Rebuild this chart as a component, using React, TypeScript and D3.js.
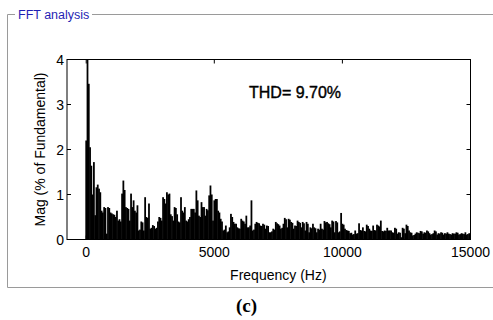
import React from "react";
import * as d3 from "d3";

// FFT bins, 50 Hz spacing, starting at 0 Hz (magnitude in % of fundamental)
const binStepHz = 50;
const magnitudes: number[] = [
  2.2, 100, 3.46, 2.05, 1.64, 1.0, 1.72, 0.54, 1.16, 1.22,
  1.13, 1.05, 0.64, 0.6, 0.72, 0.7, 0.13, 0.72, 0.7, 0.6,
  0.58, 0.56, 0.55, 0.5, 0.64, 0.42, 0.45, 0.4, 1.02, 1.31,
  1.1, 0.72, 0.7, 0.68, 0.42, 1.02, 0.72, 0.87, 0.64, 0.6,
  0.76, 0.2, 0.22, 0.4, 0.38, 0.2, 0.94, 0.5, 0.48, 0.8,
  0.24, 0.26, 0.32, 0.3, 0.24, 0.26, 0.4, 0.5, 0.48, 0.42,
  0.94, 0.9, 0.8, 1.05, 1.0, 1.02, 0.56, 0.52, 0.42, 0.72,
  0.7, 0.56, 0.4, 0.38, 0.94, 0.64, 0.6, 0.72, 0.42, 0.4,
  0.45, 0.5, 0.68, 0.68, 0.68, 0.6, 1.09, 0.87, 0.53, 0.5,
  0.83, 0.72, 0.72, 0.53, 0.68, 0.65, 0.98, 1.2, 1.0, 0.42,
  0.87, 0.9, 0.9, 0.64, 0.6, 0.46, 0.4, 0.2, 0.22, 0.31,
  0.16, 0.18, 0.27, 0.57, 0.5, 0.39, 0.35, 0.35, 0.27, 0.25,
  0.24, 0.46, 0.42, 0.4, 0.35, 0.53, 0.27, 0.27, 0.31, 0.87,
  0.2, 0.22, 0.35, 0.39, 0.37, 0.36, 0.31, 0.3, 0.35, 0.33,
  0.24, 0.31, 0.3, 0.16, 0.16, 0.18, 0.24, 0.22, 0.39, 0.36,
  0.34, 0.31, 0.24, 0.26, 0.35, 0.48, 0.45, 0.27, 0.46, 0.44,
  0.39, 0.37, 0.24, 0.31, 0.3, 0.42, 0.39, 0.37, 0.27, 0.39,
  0.36, 0.2, 0.39, 0.35, 0.16, 0.27, 0.25, 0.35, 0.27, 0.25,
  0.16, 0.24, 0.22, 0.35, 0.24, 0.22, 0.41, 0.38, 0.39, 0.36,
  0.34, 0.27, 0.42, 0.4, 0.16, 0.41, 0.38, 0.16, 0.18, 0.59,
  0.35, 0.33, 0.24, 0.21, 0.2, 0.19, 0.14, 0.15, 0.11, 0.12,
  0.2, 0.13, 0.14, 0.36, 0.21, 0.2, 0.27, 0.19, 0.18, 0.33,
  0.3, 0.24, 0.2, 0.19, 0.31, 0.21, 0.2, 0.33, 0.31, 0.29,
  0.42, 0.19, 0.18, 0.2, 0.19, 0.26, 0.2, 0.2, 0.2, 0.16,
  0.15, 0.26, 0.24, 0.13, 0.16, 0.15, 0.05, 0.26, 0.24, 0.14,
  0.33, 0.3, 0.2, 0.16, 0.15, 0.09, 0.1, 0.13, 0.16, 0.15,
  0.14, 0.19, 0.18, 0.13, 0.16, 0.15, 0.2, 0.18, 0.14, 0.11,
  0.12, 0.14, 0.2, 0.18, 0.11, 0.14, 0.13, 0.16, 0.15, 0.11,
  0.14, 0.13, 0.16, 0.13, 0.12, 0.11, 0.14, 0.13, 0.13, 0.16,
  0.15, 0.11, 0.12, 0.14, 0.13, 0.12, 0.16, 0.11, 0.12, 0.14,
  0.1,
];
const xTicks = [0, 5000, 10000, 15000];
const yTicks = [0, 1, 2, 3, 4];
const panelTitle = "FFT analysis";
const thdLabel = "THD= 9.70%";
const xLabel = "Frequency (Hz)";
const yLabel = "Mag (% of Fundamental)";
const caption = "(c)";

const W = 493;
const H = 320;
const left = 67;
const right = 470.5;
const top = 59.5;
const bottom = 239.5;

export default function App() {
  const x = d3.scaleLinear().domain([-750, 15000]).range([left, right]);
  const y = d3.scaleLinear().domain([0, 4]).range([bottom, top]);
  const bw = x(binStepHz) - x(0);
  const font = "Liberation Sans, Arial, sans-serif";
  const gray = "#9a9a9a";
  const tickLen = 4;

  return (
    <svg
      width={W}
      height={H}
      style={{ position: "absolute", left: 0, top: 0, background: "#fff" }}
      fontFamily={font}
    >
      <rect x={0} y={0} width={W} height={H} fill="#fff" />
      {/* panel frame */}
      <line x1={7.5} y1={14.5} x2={15} y2={14.5} stroke={gray} />
      <line x1={92} y1={14.5} x2={W} y2={14.5} stroke={gray} />
      <line x1={7.5} y1={14.5} x2={7.5} y2={287.5} stroke={gray} />
      <line x1={7.5} y1={287.5} x2={W} y2={287.5} stroke={gray} />
      <text x={18} y={19} fontSize={12.5} fill="#1f1fb4">
        {panelTitle}
      </text>

      <defs>
        <clipPath id="plotClip">
          <rect x={left} y={top} width={right - left} height={bottom - top} />
        </clipPath>
      </defs>

      <g clipPath="url(#plotClip)">
        {magnitudes.map((m, k) => {
          const f = k * binStepHz;
          const yy = y(Math.min(m, 5));
          return (
            <rect
              key={k}
              x={x(f) - bw / 2 - 0.25}
              y={yy}
              width={bw + 0.5}
              height={bottom - yy}
              fill="#000"
            />
          );
        })}
      </g>

      {/* axes box */}
      <rect
        x={left}
        y={top}
        width={right - left}
        height={bottom - top}
        fill="none"
        stroke="#000"
        strokeWidth={1}
      />
      {yTicks.map((t) => (
        <g key={"y" + t}>
          <line x1={left} x2={left + tickLen} y1={y(t)} y2={y(t)} stroke="#000" />
          <line x1={right} x2={right - tickLen} y1={y(t)} y2={y(t)} stroke="#000" />
          <text x={left - 3} y={y(t) + 5} fontSize={14} textAnchor="end">
            {t}
          </text>
        </g>
      ))}
      {xTicks.map((t) => (
        <g key={"x" + t}>
          <line x1={x(t)} x2={x(t)} y1={bottom} y2={bottom - tickLen} stroke="#000" />
          <line x1={x(t)} x2={x(t)} y1={top} y2={top + tickLen} stroke="#000" />
          <text x={x(t)} y={257} fontSize={14} textAnchor="middle">
            {t}
          </text>
        </g>
      ))}
      <text x={x(7500)} y={280} fontSize={14} textAnchor="middle">
        {xLabel}
      </text>
      <text
        transform={`translate(45,${(top + bottom) / 2}) rotate(-90)`}
        fontSize={14}
        textAnchor="middle"
      >
        {yLabel}
      </text>
      <text x={249} y={98} fontSize={16} stroke="#000" strokeWidth={0.4}>
        {thdLabel}
      </text>
      <text
        x={W / 2}
        y={312}
        fontSize={19}
        fontWeight="bold"
        fontFamily="Liberation Serif, Times New Roman, serif"
        textAnchor="middle"
      >
        {caption}
      </text>
    </svg>
  );
}
